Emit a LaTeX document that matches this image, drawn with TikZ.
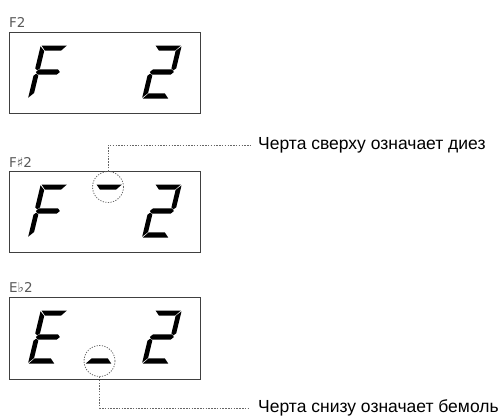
\documentclass[tikz,border=0pt]{standalone}
\usepackage{fontspec}
\setmainfont{Liberation Sans}
\newfontfamily\symfont{DejaVu Sans}
\newcommand\lcdA{\fill (0.8,53) -- (26.2,53) -- (21.5,47.8) -- (5.5,47.8) -- cycle;}
\newcommand\lcdD{\fill (0.8,0) -- (26.2,0) -- (21.5,5.2) -- (5.5,5.2) -- cycle;}
\newcommand\lcdG{\fill (1.5,26.5) -- (4,29.1) -- (23,29.1) -- (25.5,26.5) -- (23,23.9) -- (4,23.9) -- cycle;}
\newcommand\lcdF{\fill (0,52.2) -- (4.8,47.5) -- (4.8,30.2) -- (2.4,28.1) -- (0,30.2) -- cycle;}
\newcommand\lcdE{\fill (0,0.8) -- (4.8,5.5) -- (4.8,22.8) -- (2.4,24.9) -- (0,22.8) -- cycle;}
\newcommand\lcdB{\fill (27,52.2) -- (22.2,47.5) -- (22.2,30.2) -- (24.6,28.1) -- (27,30.2) -- cycle;}
\newcommand\lcdC{\fill (27,0.8) -- (22.2,5.5) -- (22.2,22.8) -- (24.6,24.9) -- (27,22.8) -- cycle;}
\begin{document}
\begin{tikzpicture}[x=1pt,y=-1pt,
  lcdbox/.style={draw=black!75, line width=0.9pt},
  digitpos/.style={x=1pt, y=1pt, xslant=0.24},
  hintcircle/.style={circle, draw=black!60, dash pattern=on 1.2pt off 1.4pt, line width=0.8pt, minimum size=31pt, inner sep=0pt},
  leader/.style={draw=black!60, dash pattern=on 1.5pt off 1.3pt, line width=0.7pt},
  caption/.style={font=\fontsize{17.5}{20}\selectfont, anchor=west, inner sep=0pt},
  tag/.style={font=\symfont\fontsize{13.5}{15}\selectfont, text=black!65, anchor=base west, inner sep=0pt}
]
\useasboundingbox (0,0) rectangle (499,418);

% --- display 1: F2
\node[tag] (tag1) at (9,27) {F2};
\draw[lcdbox] (9,32) rectangle (200,113);
\begin{scope}[shift={(28,98.5)}, digitpos] \lcdA\lcdF\lcdG\lcdE \end{scope}
\begin{scope}[shift={(142,98.5)}, digitpos] \lcdA\lcdB\lcdG\lcdE\lcdD \end{scope}

% --- display 2: F#2
\node[tag] (tag2) at (9,167) {F♯2};
\draw[lcdbox] (9,171) rectangle (200,252);
\begin{scope}[shift={(28,237.5)}, digitpos] \lcdA\lcdF\lcdG\lcdE \end{scope}
\begin{scope}[shift={(83,237.5)}, digitpos] \lcdA \end{scope}
\begin{scope}[shift={(142,237.5)}, digitpos] \lcdA\lcdB\lcdG\lcdE\lcdD \end{scope}
\node[hintcircle] (c1) at (108,187) {};
\node[caption] (t1) at (258,145) {Черта сверху означает диез};
\draw[leader, shorten >=8pt] (c1.north) |- (t1.west);

% --- display 3: Eb2
\node[tag] (tag3) at (9,292) {E♭2};
\draw[lcdbox] (9,297) rectangle (200,379);
\begin{scope}[shift={(28,363.5)}, digitpos] \lcdA\lcdF\lcdG\lcdE\lcdD \end{scope}
\begin{scope}[shift={(85,363.5)}, digitpos] \lcdD \end{scope}
\begin{scope}[shift={(142,363.5)}, digitpos] \lcdA\lcdB\lcdG\lcdE\lcdD \end{scope}
\node[hintcircle] (c2) at (99.5,361) {};
\node[caption] (t2) at (258,408) {Черта снизу означает бемоль};
\draw[leader, shorten >=8pt] (c2.south) |- (t2.west);
\end{tikzpicture}
\end{document}
